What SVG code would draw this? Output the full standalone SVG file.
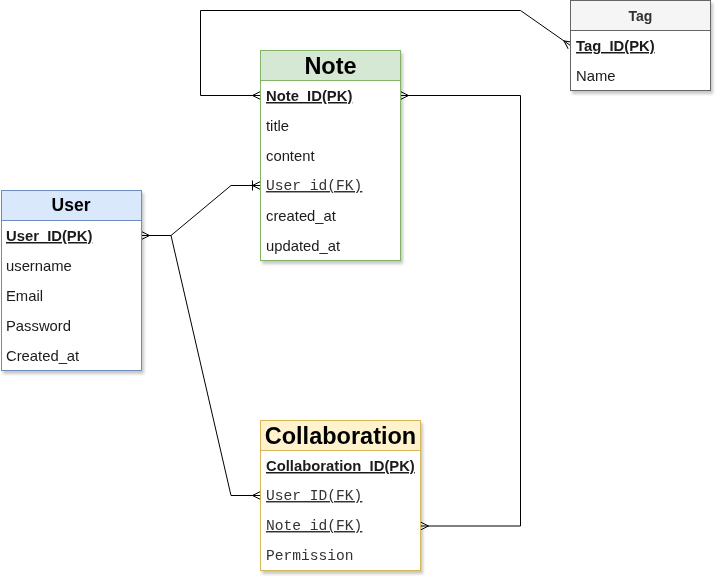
<svg xmlns="http://www.w3.org/2000/svg" width="722" height="582" viewBox="0 0 722 582">
<style>
.row{font-family:"Liberation Sans",Arial,sans-serif;font-size:14.8px;fill:#1a1a1a}
.pk{font-weight:bold;text-decoration:underline}
.mono{font-family:"Liberation Mono","Courier New",monospace;font-size:14.6px;fill:#333}
.fk{text-decoration:underline}
.title{font-family:"Liberation Sans",Arial,sans-serif;font-weight:bold;text-anchor:middle;fill:#000}
.conn{fill:none;stroke:#000;stroke-width:1}
</style>
<defs>
<filter id="sh" x="-10%" y="-10%" width="130%" height="130%">
<feDropShadow dx="2" dy="3" stdDeviation="1.5" flood-color="#000" flood-opacity="0.22"/>
</filter>
<marker id="many" viewBox="-10 -6 12 12" refX="0" refY="0" markerWidth="12" markerHeight="12" markerUnits="userSpaceOnUse" orient="auto-start-reverse">
<path d="M0,-4 L-8,0 L0,4" fill="none" stroke="#000" stroke-width="1"/>
</marker>
<marker id="oneMany" viewBox="-10 -6 12 12" refX="0" refY="0" markerWidth="12" markerHeight="12" markerUnits="userSpaceOnUse" orient="auto-start-reverse">
<path d="M0,-4 L-8,0 L0,4 M-8,-5 L-8,5" fill="none" stroke="#000" stroke-width="1"/>
</marker>
</defs>
<rect width="722" height="582" fill="#fff"/>

<g id="connectors">
<path class="conn" d="M141.5,235.5 L171,235.5 L231,185.5 L260.5,185.5" marker-start="url(#many)" marker-end="url(#oneMany)"/>
<path class="conn" d="M171,235.5 L231,495.5 L260.5,495.5" marker-end="url(#many)"/>
<path class="conn" d="M260.5,95.5 L200.5,95.5 L200.5,10.5 L520.5,10.5 L570.5,45.5" marker-start="url(#many)" marker-end="url(#many)"/>
<path class="conn" d="M400.5,95.5 L520.5,95.5 L520.5,526 L420.5,526" marker-start="url(#many)" marker-end="url(#many)"/>
</g>

<g id="user" filter="url(#sh)">
<rect x="1.5" y="190.5" width="140" height="180" fill="#fff" stroke="#6c8ebf"/>
<rect x="1.5" y="190.5" width="140" height="30" fill="#dae8fc" stroke="#6c8ebf"/>
<text class="title" x="71" y="211" font-size="17.5">User</text>
<text class="row pk" x="6" y="241">User_ID(PK)</text>
<text class="row" x="6" y="271">username</text>
<text class="row" x="6" y="301">Email</text>
<text class="row" x="6" y="331">Password</text>
<text class="row" x="6" y="361">Created_at</text>
</g>

<g id="note" filter="url(#sh)">
<rect x="260.5" y="50.5" width="140" height="210" fill="#fff" stroke="#82b366"/>
<rect x="260.5" y="50.5" width="140" height="30" fill="#d5e8d4" stroke="#82b366"/>
<text class="title" x="330.5" y="73.5" font-size="23.5">Note</text>
<text class="row pk" x="266" y="101">Note_ID(PK)</text>
<text class="row" x="266" y="131">title</text>
<text class="row" x="266" y="161">content</text>
<text class="mono fk" x="266" y="190">User_id(FK)</text>
<text class="row" x="266" y="221">created_at</text>
<text class="row" x="266" y="251">updated_at</text>
</g>

<g id="tag" filter="url(#sh)">
<rect x="570.5" y="0.5" width="140" height="90" fill="#fff" stroke="#666"/>
<rect x="570.5" y="0.5" width="140" height="30" fill="#f5f5f5" stroke="#666"/>
<text class="title" x="640.5" y="21" font-size="14" style="fill:#333">Tag</text>
<text class="row pk" x="576" y="51">Tag_ID(PK)</text>
<text class="row" x="576" y="81">Name</text>
</g>

<g id="collaboration" filter="url(#sh)">
<rect x="260.5" y="420.5" width="160" height="150" fill="#fff" stroke="#d6b656"/>
<rect x="260.5" y="420.5" width="160" height="30" fill="#fff2cc" stroke="#d6b656"/>
<text class="title" x="340.5" y="443.5" font-size="23.5">Collaboration</text>
<text class="row pk" x="266" y="471">Collaboration_ID(PK)</text>
<text class="mono fk" x="266" y="500">User_ID(FK)</text>
<text class="mono fk" x="266" y="530">Note_id(FK)</text>
<text class="mono" x="266" y="560">Permission</text>
</g>
</svg>
